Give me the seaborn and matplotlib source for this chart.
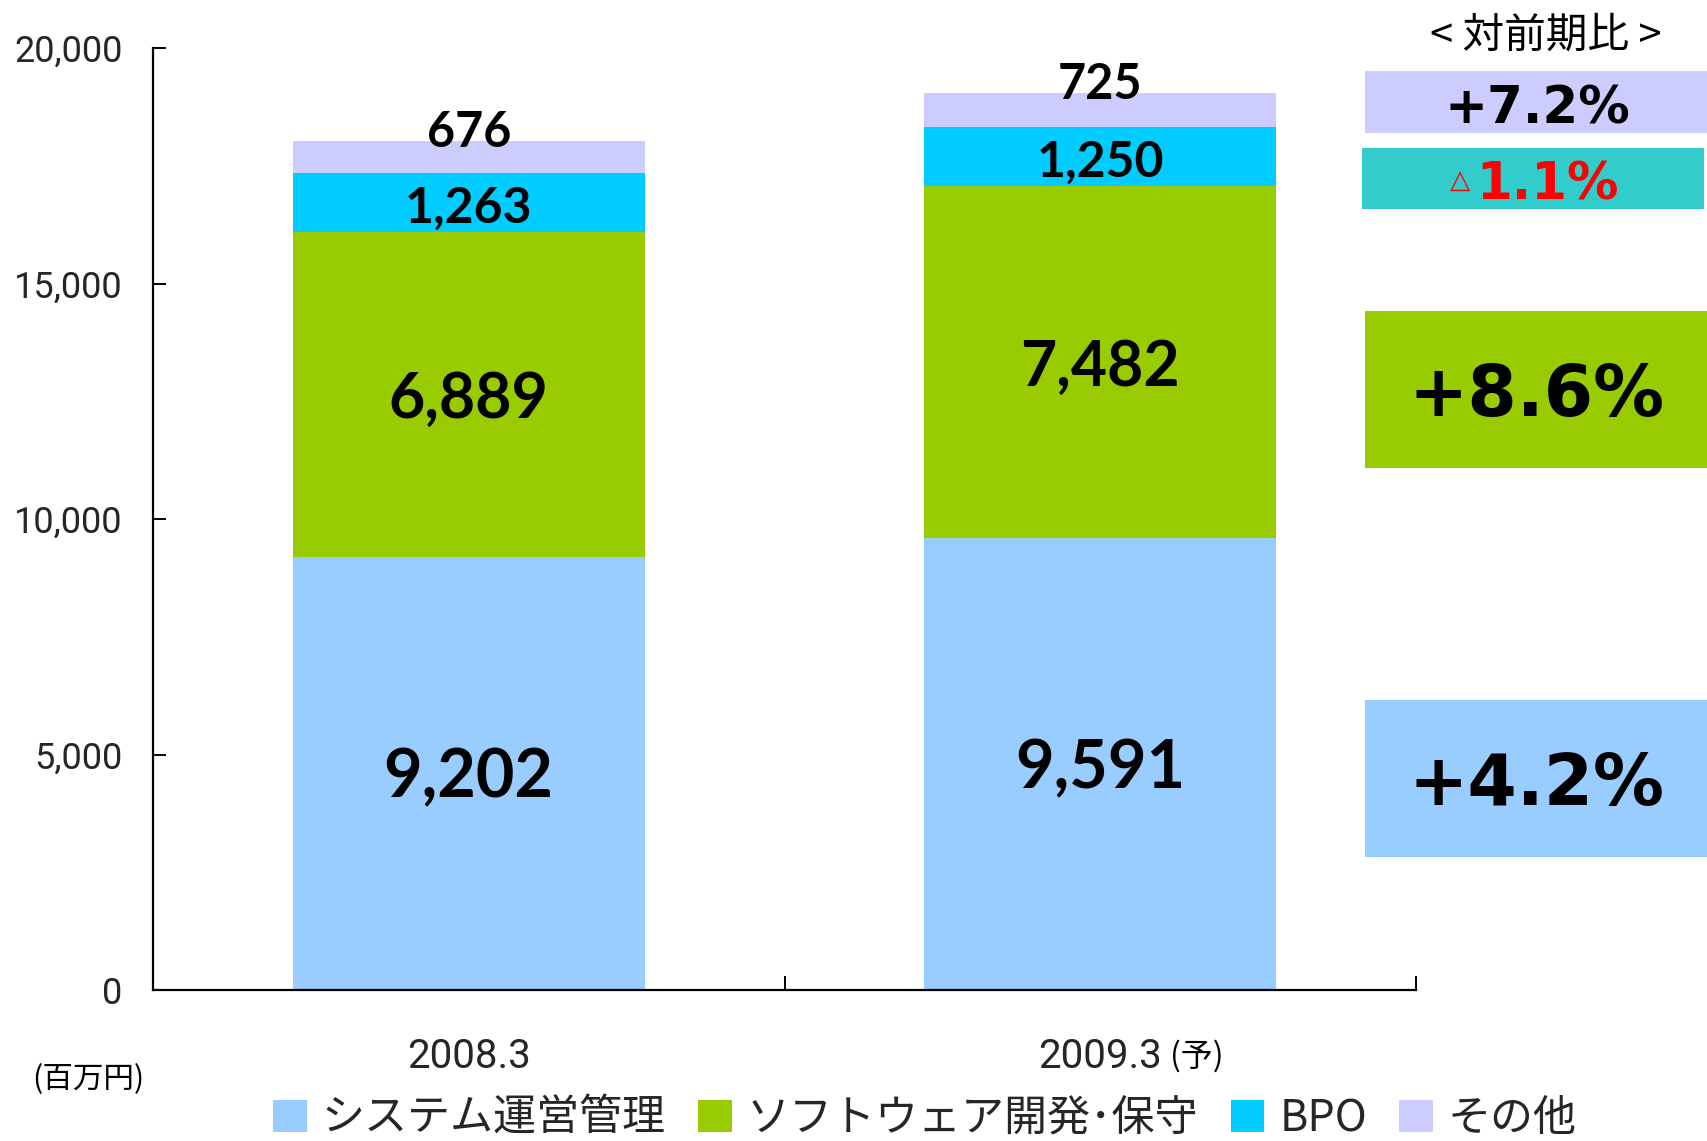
import numpy as np
import pandas as pd
import seaborn as sns
import matplotlib.pyplot as plt
from matplotlib.patches import Rectangle, Patch
from matplotlib.ticker import FuncFormatter, FixedLocator

# ---- data ----
periods = ["2008.3", "2009.3"]
segments = ["システム運営管理", "ソフトウェア開発･保守", "BPO", "その他"]
sys_ops = [9202, 9591]
software = [6889, 7482]
bpo = [1263, 1250]
other = [676, 725]
growth = ["+4.2%", "+8.6%", "1.1%", "+7.2%"]   # 対前期比 per segment
growth_neg = [False, False, True, False]
colors = ["#99CCFF", "#99CC00", "#00CCFF", "#CCCCFF"]
box_colors = ["#99CCFF", "#99CC00", "#33CCCC", "#CCCCFF"]

sns.set_theme(style="white")
plt.rcParams["font.family"] = ["Noto Sans CJK JP", "DejaVu Sans"]

df = pd.DataFrame({"period": periods, "s1": sys_ops, "s2": software, "s3": bpo, "s4": other})
series = [df["s1"].values, df["s2"].values, df["s3"].values, df["s4"].values]
cum = np.cumsum(np.vstack(series), axis=0)

fig = plt.figure(figsize=(17.07, 11.41), dpi=100)
ax = fig.add_axes([153/1707, 1 - 990/1141, (1416-153)/1707, (990-48)/1141])

# draw from the top cumulative down so each segment is visible
for i in range(3, -1, -1):
    d = pd.DataFrame({"period": periods, "v": cum[i]})
    sns.barplot(data=d, x="period", y="v", color=colors[i], width=0.557,
                saturation=1, ax=ax, linewidth=0, edgecolor="none")

ax.set_xlim(-0.5, 1.5)
ax.set_ylim(0, 20000)
ax.set_xlabel("")
ax.set_ylabel("")

for s in ["top", "right"]:
    ax.spines[s].set_visible(False)
for s in ["left", "bottom"]:
    ax.spines[s].set_color("black")
    ax.spines[s].set_linewidth(1.6)

ax.yaxis.set_major_locator(FixedLocator([0, 5000, 10000, 15000, 20000]))
ax.yaxis.set_major_formatter(FuncFormatter(lambda v, p: f"{int(v):,}"))
ax.tick_params(axis="y", left=True, direction="in", length=9, width=1.4, color="black",
               labelsize=26, pad=22)
for t in ax.get_yticklabels():
    t.set_fontfamily(["Roboto", "DejaVu Sans"])

# x ticks: labels at categories, tick marks at boundaries
ax.set_xticks([0, 1])
ax.set_xticklabels(periods)
ax.tick_params(axis="x", which="major", bottom=True, length=0, labelsize=29, pad=34)
for t in ax.get_xticklabels():
    t.set_fontfamily(["Roboto", "Noto Sans CJK JP"])
ax.set_xticks([-0.5, 0.5, 1.5], minor=True)
ax.tick_params(axis="x", which="minor", bottom=True, direction="in", length=10, width=1.4,
               color="black")

xt = ax.get_xticklabels()
ax.annotate("(予)", xy=(1, 0.5), xycoords=xt[1], xytext=(6, 0), textcoords="offset points",
            ha="left", va="center", fontsize=23, color="black")

# value labels
label_sizes = [48, 45, 36, 35]
for j in range(len(periods)):
    for i in range(4):
        val = series[i][j]
        if i < 3:
            y = cum[i][j] - val / 2
            off = -4
        else:
            y = cum[i][j]
            off = 6
        ax.annotate(f"{val:,}", xy=(j, y), xytext=(0, off),
                    textcoords="offset points", ha="center", va="center",
                    fontsize=label_sizes[i], fontweight="bold", color="black",
                    family=["Lato", "DejaVu Sans"])

# unit
fig.text(32/1707, 1 - 1080/1141, "(百万円)", ha="left", va="center", fontsize=22, color="black")
# ---- right side growth boxes ----
fig.text(1546/1707, 1 - 36/1141, "< 対前期比 >", ha="center", va="center", fontsize=30, color="black")
boxes = [(700, 857, 51), (311, 468, 51), (148, 209, 37), (71, 133, 37)]
for i, (top, bot, fs) in enumerate(boxes):
    x0 = 1365 if i != 2 else 1362
    x1 = 1707 if i != 2 else 1704
    fig.patches.append(Rectangle((x0/1707, 1 - bot/1141), (x1-x0)/1707, (bot-top)/1141,
                                 transform=fig.transFigure, facecolor=box_colors[i],
                                 edgecolor="none", zorder=0))
    cy = 1 - ((top + bot) / 2 + 7) / 1141
    if growth_neg[i]:
        fig.text(1548/1707, cy, growth[i], ha="center", va="center", fontsize=fs,
                 fontweight="bold", color="#FF0000", family=["DejaVu Sans"])
        fig.text(1470/1707, cy + 0.004, "△", ha="right", va="center", fontsize=19,
                 color="#FF0000", family=["DejaVu Sans"])
    else:
        fig.text(1537/1707, cy, growth[i], ha="center", va="center", fontsize=fs,
                 fontweight="bold", color="black", family=["DejaVu Sans"])

# legend
handles = [Patch(facecolor=c, edgecolor="none") for c in colors]
fig.legend(handles, segments, loc="center", bbox_to_anchor=(925/1707, 1 - 1119/1141),
           ncol=4, frameon=False, fontsize=31, handlelength=0.78, handleheight=0.78,
           handletextpad=0.35, columnspacing=0.75, borderaxespad=0, borderpad=0.05)

fig.savefig("out.png", dpi=100)
